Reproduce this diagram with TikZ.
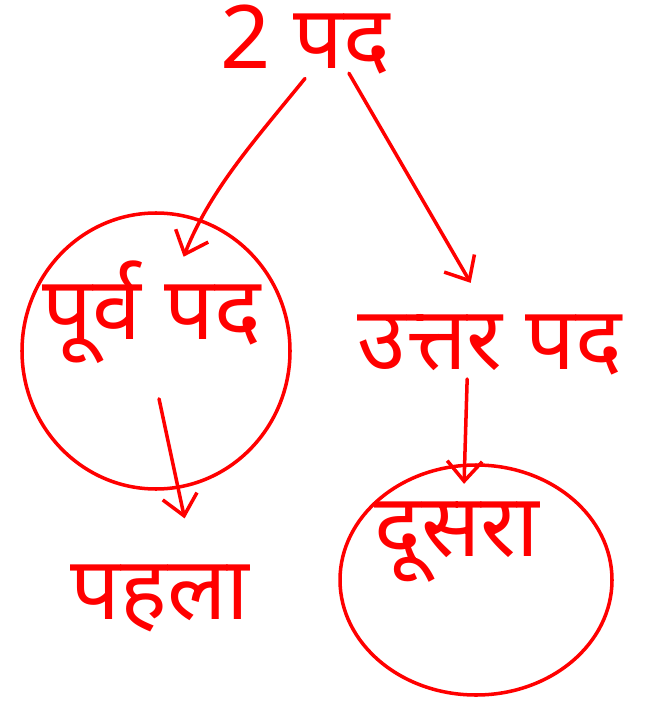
\documentclass[tikz,border=0pt]{standalone}
\usepackage{fontspec}
\newfontfamily\devfont[Script=Devanagari]{Noto Sans}
\usetikzlibrary{arrows.meta}
\definecolor{InkRed}{HTML}{FF0000}

\begin{document}
\begin{tikzpicture}[x=0.02cm,y=-0.02cm,line cap=round,line join=round,
  word/.style={text=InkRed,font=\devfont\fontsize{50}{56}\selectfont,inner sep=2pt},
  link/.style={-{Straight Barb[length=4mm,width=7mm]},InkRed,line width=2pt},
  ring/.style={draw=InkRed,line width=2pt}]
  \useasboundingbox (0,0) rectangle (650,705);
  % words
  \node[word] (top) at (305,40) {2 पद};
  \node[word] (purva) at (152,312) {पूर्व पद};
  \node[word] (uttar) at (490,345) {उत्तर पद};
  \node[word] (pahla) at (160,598) {पहला};
  \node[word] (dusra) at (457,542) {दूसरा};
  % rings
  \draw[ring] (156,351) ellipse (134 and 138);
  \draw[ring] (476,580) ellipse (136 and 115);
  % links
  \draw[link] (top.south) .. controls (255,140) and (210,190) .. ([xshift=18pt]purva.north);
  \draw[link] ([xshift=25pt,yshift=3pt]top.south) -- ([xshift=-11pt,yshift=16pt]uttar.north);
  \draw[link] ([xshift=4pt,yshift=-18pt]purva.south) -- ([xshift=14pt,yshift=24pt]pahla.north);
  \draw[link] ([xshift=-13pt]uttar.south) -- ([xshift=4pt,yshift=8pt]dusra.north);
\end{tikzpicture}
\end{document}
